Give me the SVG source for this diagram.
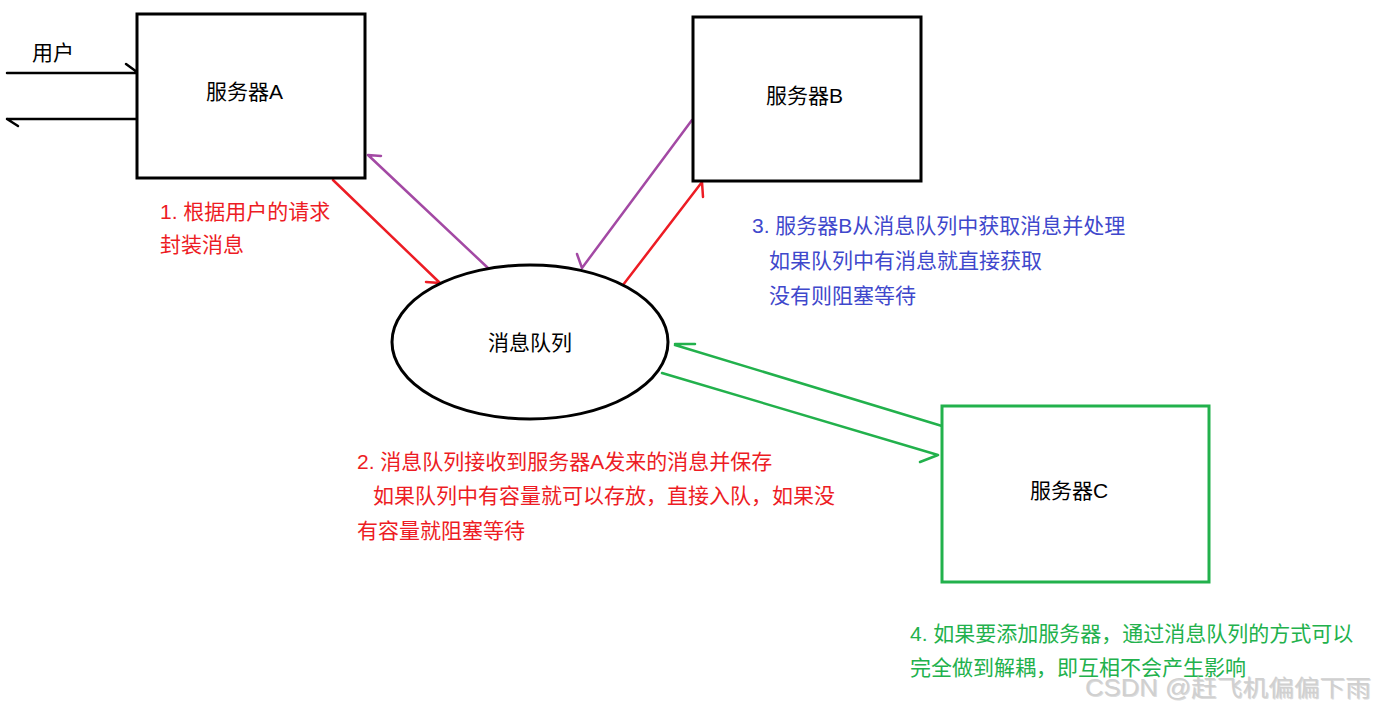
<svg xmlns="http://www.w3.org/2000/svg" width="1376" height="710" viewBox="0 0 1376 710">
<style>
text{font-family:"Liberation Sans","Noto Sans CJK SC",sans-serif;font-size:21px}
.box{fill:#fff;stroke:#000;stroke-width:3}
.k{fill:#000}
.r{fill:#ed1c24}
.b{fill:#3f48cc}
.g{fill:#22b14c}
.ln{fill:none;stroke-width:2.5;stroke-linecap:round}
.wm{font-size:23px}
</style>
<rect width="1376" height="710" fill="#fff"/>
<g id="connectors">
<path class="ln" stroke="#000" stroke-width="3" d="M7 73H137M126 64L137 72M137 119H7M7 119L18 126"/>
<path class="ln" stroke="#ed1c24" d="M333 180L440 283M426 282L440 283"/>
<path class="ln" stroke="#a349a4" d="M488 268L368 155M368 155L381 156"/>
<path class="ln" stroke="#a349a4" d="M692 120L582 268M582 268L577 254"/>
<path class="ln" stroke="#ed1c24" d="M623 285L702 182M702 182L703 197"/>
<path class="ln" stroke="#22b14c" d="M942 426L675 345M675 344L695 344"/>
<path class="ln" stroke="#22b14c" d="M662 373L938 455M938 455L920 462"/>
</g>
<g id="user"><text class="k" x="32" y="60">用户</text></g>
<g id="serverA"><rect class="box" x="137" y="14" width="228" height="164"/><text class="k" x="206" y="99">服务器A</text></g>
<g id="serverB"><rect class="box" x="693" y="17" width="228" height="164"/><text class="k" x="766" y="103">服务器B</text></g>
<g id="serverC"><rect x="942" y="406" width="267" height="176" fill="#fff" stroke="#22b14c" stroke-width="3"/><text class="k" x="1030" y="498">服务器C</text></g>
<g id="queue"><ellipse cx="530" cy="342" rx="138" ry="77" fill="#fff" stroke="#000" stroke-width="3"/><text class="k" x="488" y="350">消息队列</text></g>
<g id="note1">
<text class="r" x="160" y="219">1. 根据用户的请求</text>
<text class="r" x="160" y="252">封装消息</text>
</g>
<g id="note2">
<text class="r" x="357" y="469">2. 消息队列接收到服务器A发来的消息并保存</text>
<text class="r" x="373" y="503">如果队列中有容量就可以存放，直接入队，如果没</text>
<text class="r" x="357" y="538">有容量就阻塞等待</text>
</g>
<g id="note3">
<text class="b" x="752" y="233">3. 服务器B从消息队列中获取消息并处理</text>
<text class="b" x="769" y="268">如果队列中有消息就直接获取</text>
<text class="b" x="769" y="303">没有则阻塞等待</text>
</g>
<g id="note4">
<text class="g" x="910" y="641">4. 如果要添加服务器，通过消息队列的方式可以</text>
<text class="g" x="910" y="675">完全做到解耦，即互相不会产生影响</text>
</g>
<g id="watermark">
<text class="wm" x="1086" y="697" fill="#aaa" opacity="0.4" textLength="286" lengthAdjust="spacingAndGlyphs">CSDN @赶飞机偏偏下雨</text>
<text class="wm" x="1085" y="696" fill="#d0d0d0" textLength="286" lengthAdjust="spacingAndGlyphs">CSDN @赶飞机偏偏下雨</text>
</g>
</svg>
